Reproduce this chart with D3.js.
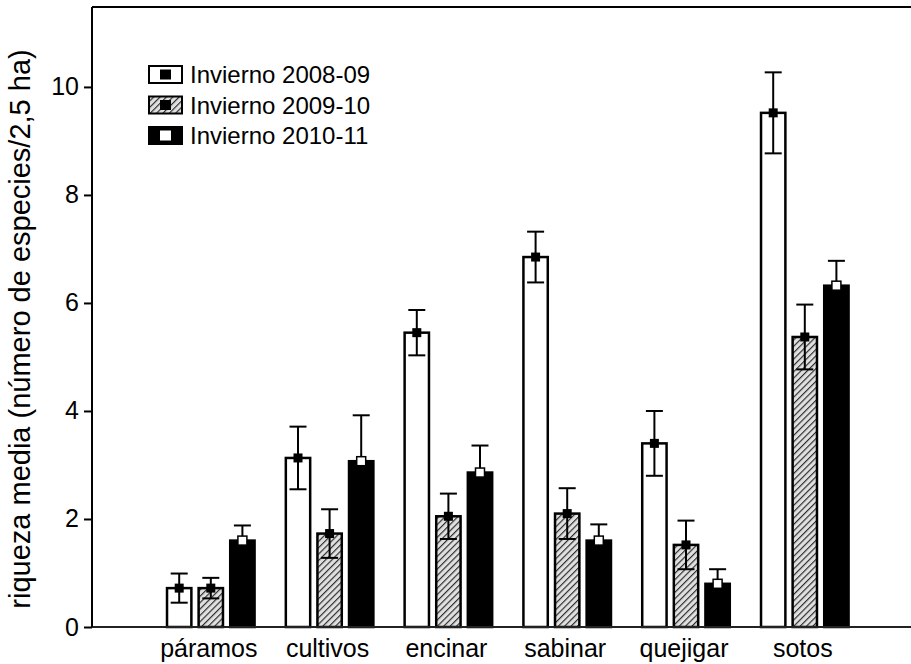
<!DOCTYPE html>
<html>
<head>
<meta charset="utf-8">
<script src="https://cdn.jsdelivr.net/npm/d3@7"></script>
<style>
  html, body { margin: 0; padding: 0; background: #fff; }
  svg { display: block; font-family: "Liberation Sans", Arial, sans-serif; }
</style>
</head>
<body>
<script>
// habitat categories and the three winters (mean ± error)
const categories = ["páramos", "cultivos", "encinar", "sabinar", "quejigar", "sotos"];
const seriesNames = ["Invierno 2008-09", "Invierno 2009-10", "Invierno 2010-11"];
const mean0809 = [0.72, 3.13, 5.45, 6.85, 3.40, 9.52];
const err0809  = [0.27, 0.58, 0.42, 0.47, 0.60, 0.75];
const mean0910 = [0.72, 1.73, 2.05, 2.10, 1.52, 5.37];
const err0910  = [0.19, 0.45, 0.42, 0.47, 0.45, 0.60];
const mean1011 = [1.60, 3.07, 2.86, 1.60, 0.80, 6.32];
const err1011  = [0.28, 0.85, 0.50, 0.30, 0.27, 0.46];
const yTicks = [0, 2, 4, 6, 8, 10];

const W = 911, H = 664;
const plotLeft = 92, plotBottom = 627, plotTop = 7;

const svg = d3.select("body").append("svg").attr("width", W).attr("height", H);

const defs = svg.append("defs");
const pat = defs.append("pattern")
  .attr("id", "hatch").attr("patternUnits", "userSpaceOnUse")
  .attr("width", 4.5).attr("height", 4.5)
  .attr("patternTransform", "rotate(45)");
pat.append("rect").attr("width", 4.5).attr("height", 4.5).attr("fill", "#e0e0e0");
pat.append("line").attr("x1", 0).attr("y1", 0).attr("x2", 0).attr("y2", 4.5)
  .attr("stroke", "#2a2a2a").attr("stroke-width", 2.3);

// x positions: groups at 1..6 on a 0..7 linear scale (right part clipped by the window)
const x = d3.scaleLinear().domain([0, 7]).range([plotLeft, plotLeft + 7 * 118.8]);
const y = d3.scaleLinear().domain([0, 11.48]).range([plotBottom, plotTop]);

const barW = 0.205, stride = 0.266;
const fills = ["#fff", "url(#hatch)", "#000"];
const markFill = ["#000", "#000", "#fff"];

const series = [
  { means: mean0809, errs: err0809 },
  { means: mean0910, errs: err0910 },
  { means: mean1011, errs: err1011 },
];

const rows = [];
series.forEach((s, si) => categories.forEach((c, ci) => rows.push({
  si, ci, v: s.means[ci], e: s.errs[ci], xc: ci + 1 + (si - 1) * stride,
})));

const g = svg.append("g");

g.selectAll("rect.bar").data(rows).join("rect")
  .attr("class", "bar")
  .attr("x", d => x(d.xc - barW / 2))
  .attr("y", d => y(d.v))
  .attr("width", d => x(barW) - x(0))
  .attr("height", d => y(0) - y(d.v))
  .attr("fill", d => fills[d.si])
  .attr("stroke", "#000").attr("stroke-width", 2.5);

// error bars
const capW = 8.5;
const eb = g.selectAll("g.err").data(rows).join("g").attr("class", "err")
  .attr("stroke", "#000").attr("stroke-width", 2);
eb.append("line")
  .attr("x1", d => x(d.xc)).attr("x2", d => x(d.xc))
  .attr("y1", d => y(d.v - d.e)).attr("y2", d => y(d.v + d.e));
eb.append("line")
  .attr("x1", d => x(d.xc) - capW).attr("x2", d => x(d.xc) + capW)
  .attr("y1", d => y(d.v + d.e)).attr("y2", d => y(d.v + d.e));
eb.append("line")
  .attr("x1", d => x(d.xc) - capW).attr("x2", d => x(d.xc) + capW)
  .attr("y1", d => y(d.v - d.e)).attr("y2", d => y(d.v - d.e));

// mean markers
const ms = 9;
g.selectAll("rect.mark").data(rows).join("rect")
  .attr("class", "mark")
  .attr("x", d => x(d.xc) - ms / 2).attr("y", d => y(d.v) - ms / 2)
  .attr("width", ms).attr("height", ms)
  .attr("fill", d => markFill[d.si])
  .attr("stroke", "#000").attr("stroke-width", d => d.si === 2 ? 1.5 : 0);

// frame: left axis, top line, bottom axis
svg.append("line").attr("x1", plotLeft).attr("x2", W).attr("y1", plotTop).attr("y2", plotTop)
  .attr("stroke", "#000").attr("stroke-width", 2);
svg.append("line").attr("x1", plotLeft).attr("x2", W).attr("y1", plotBottom).attr("y2", plotBottom)
  .attr("stroke", "#222").attr("stroke-width", 2);

const yAxis = svg.append("g").attr("transform", `translate(${plotLeft},0)`)
  .call(d3.axisLeft(y).tickValues(yTicks).tickSize(8).tickPadding(5).tickSizeOuter(0));
yAxis.select(".domain").attr("stroke", "#000").attr("stroke-width", 2)
  .attr("d", `M0,${plotTop}V${plotBottom}`);
yAxis.selectAll(".tick line").attr("stroke", "#000").attr("stroke-width", 2);
yAxis.selectAll(".tick text").attr("font-size", 25).attr("fill", "#000")
  .attr("font-family", "'Liberation Sans', Arial, sans-serif");

// category labels
svg.append("g").selectAll("text").data(categories).join("text")
  .attr("x", (d, i) => x(i + 1) - 2).attr("y", 657)
  .attr("text-anchor", "middle").attr("font-size", 25).attr("fill", "#000")
  .text(d => d);

// y title
svg.append("text")
  .attr("transform", "translate(30,329) rotate(-90)")
  .attr("text-anchor", "middle").attr("font-size", 29).attr("fill", "#000")
  .text("riqueza media (número de especies/2,5 ha)");

// legend
const lg = svg.append("g").selectAll("g").data(seriesNames).join("g")
  .attr("transform", (d, i) => `translate(148,${65 + i * 30.5})`);
lg.append("rect").attr("x", 1).attr("y", 1).attr("width", 33).attr("height", 17)
  .attr("fill", (d, i) => fills[i]).attr("stroke", "#000").attr("stroke-width", 2);
lg.append("rect").attr("x", 12).attr("y", 4.5).attr("width", 11).attr("height", 10)
  .attr("fill", (d, i) => markFill[i]);
lg.append("text").attr("x", 42).attr("y", 18).attr("font-size", 24).attr("fill", "#000")
  .text(d => d);
</script>
</body>
</html>
